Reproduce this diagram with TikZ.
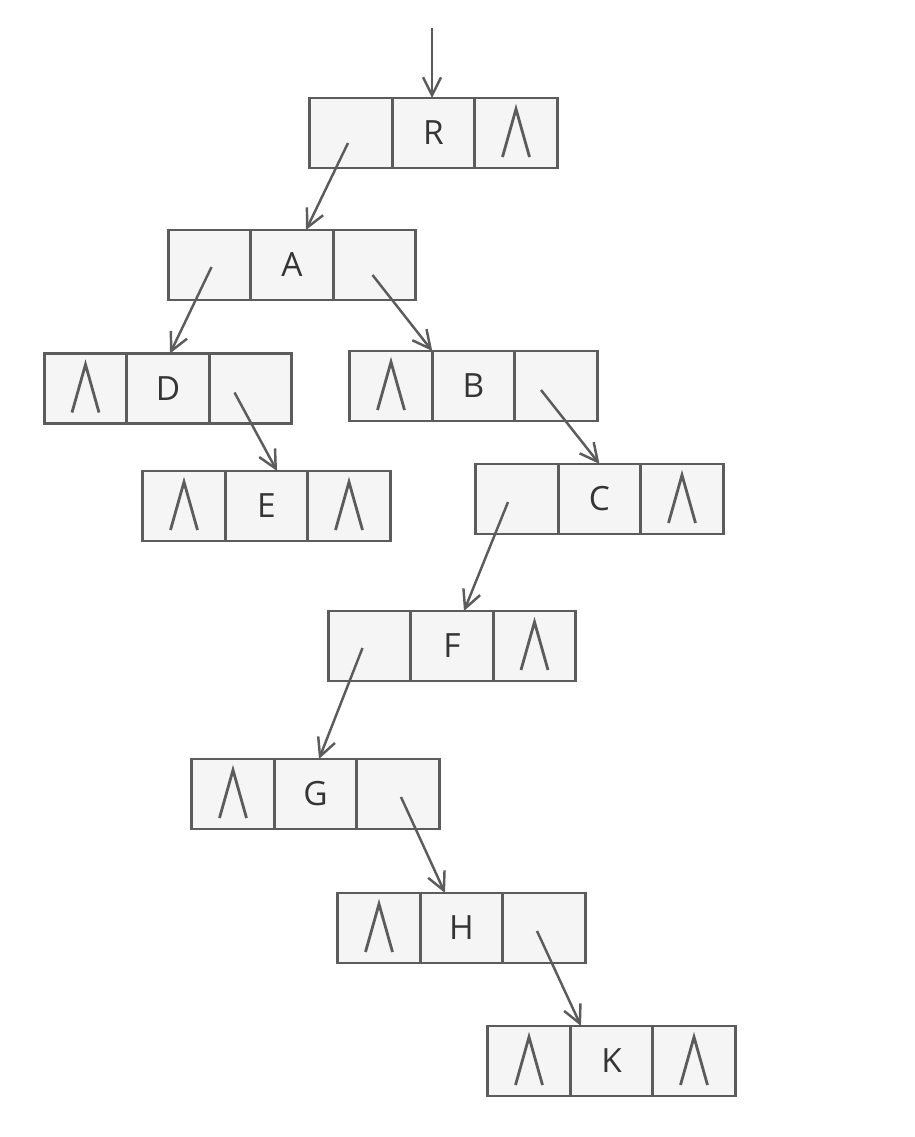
\documentclass[tikz,border=0pt]{standalone}
\usepackage{fontspec}
\setmainfont{Open Sans}
\usepackage{xcolor}
\usetikzlibrary{arrows.meta,positioning,calc}
\definecolor{boxgray}{HTML}{5C5C5C}
\definecolor{cellfill}{HTML}{F5F5F5}
\definecolor{textgray}{HTML}{353535}
\tikzstyle{CELL} = [rectangle, draw=boxgray, line width=1.6pt, fill=cellfill, minimum width=1.65cm, minimum height=1.4cm, outer sep=0pt, inner sep=0pt, text=textgray, font=\fontsize{19}{22}\selectfont]
\tikzstyle{NULLCELL} = [CELL, path picture={\draw[boxgray, line width=1.6pt] ($(path picture bounding box.center)+(-0.27,-0.48)$) -- ($(path picture bounding box.center)+(0,0.48)$) -- ($(path picture bounding box.center)+(0.27,-0.48)$);}]
\tikzstyle{ARROW} = [draw=boxgray, line width=1.4pt, -{Straight Barb[length=3.6mm, width=3.6mm]}]

\begin{document}
\begin{tikzpicture}
\useasboundingbox (0,0) rectangle (18.3,-22.74);
% Place node
\node [CELL] (R) at (8.67,-2.66) {R};
\node [CELL, left=0pt of R] (R_L) {};
\node [NULLCELL, right=0pt of R] (R_R) {};
%
\node [CELL] (A) at (5.84,-5.30) {A};
\node [CELL, left=0pt of A] (A_L) {};
\node [CELL, right=0pt of A] (A_R) {};
%
\node [CELL] (D) at (3.36,-7.77) {D};
\node [NULLCELL, left=0pt of D] (D_L) {};
\node [CELL, right=0pt of D] (D_R) {};
%
\node [CELL] (B) at (9.47,-7.72) {B};
\node [NULLCELL, left=0pt of B] (B_L) {};
\node [CELL, right=0pt of B] (B_R) {};
%
\node [CELL] (E) at (5.33,-10.12) {E};
\node [NULLCELL, left=0pt of E] (E_L) {};
\node [NULLCELL, right=0pt of E] (E_R) {};
%
\node [CELL] (C) at (11.99,-9.98) {C};
\node [CELL, left=0pt of C] (C_L) {};
\node [NULLCELL, right=0pt of C] (C_R) {};
%
\node [CELL] (F) at (9.04,-12.92) {F};
\node [CELL, left=0pt of F] (F_L) {};
\node [NULLCELL, right=0pt of F] (F_R) {};
%
\node [CELL] (G) at (6.31,-15.88) {G};
\node [NULLCELL, left=0pt of G] (G_L) {};
\node [CELL, right=0pt of G] (G_R) {};
%
\node [CELL] (H) at (9.23,-18.56) {H};
\node [NULLCELL, left=0pt of H] (H_L) {};
\node [CELL, right=0pt of H] (H_R) {};
%
\node [CELL] (K) at (12.23,-21.22) {K};
\node [NULLCELL, left=0pt of K] (K_L) {};
\node [NULLCELL, right=0pt of K] (K_R) {};
%
\coordinate (ENTRY) at (8.64,-0.56);
% LINES and ARROWS
\path [ARROW] (ENTRY) -- ([xshift=-0.03cm]R.north);
\path [ARROW] ([xshift=-0.06cm,yshift=-0.2cm]R_L.center) -- ([xshift=0.28cm]A.north);
\path [ARROW] ([xshift=0.04cm,yshift=-0.04cm]A_L.center) -- ([xshift=0.04cm]D.north);
\path [ARROW] ([xshift=-0.04cm,yshift=-0.2cm]A_R.center) -- (B.north west);
\path [ARROW] ([xshift=-0.32cm,yshift=-0.08cm]D_R.center) -- ([xshift=0.21cm]E.north);
\path [ARROW] ([xshift=-0.3cm,yshift=-0.08cm]B_R.center) -- (C.north);
\path [ARROW] ([xshift=-0.18cm,yshift=-0.06cm]C_L.center) -- ([xshift=0.24cm]F.north);
\path [ARROW] ([xshift=-0.14cm,yshift=-0.04cm]F_L.center) -- ([xshift=0.07cm]G.north);
\path [ARROW] ([xshift=0.06cm,yshift=-0.06cm]G_R.center) -- ([xshift=-0.33cm]H.north);
\path [ARROW] ([xshift=-0.14cm,yshift=-0.06cm]H_R.center) -- ([xshift=-0.61cm]K.north);
\end{tikzpicture}
\end{document}
